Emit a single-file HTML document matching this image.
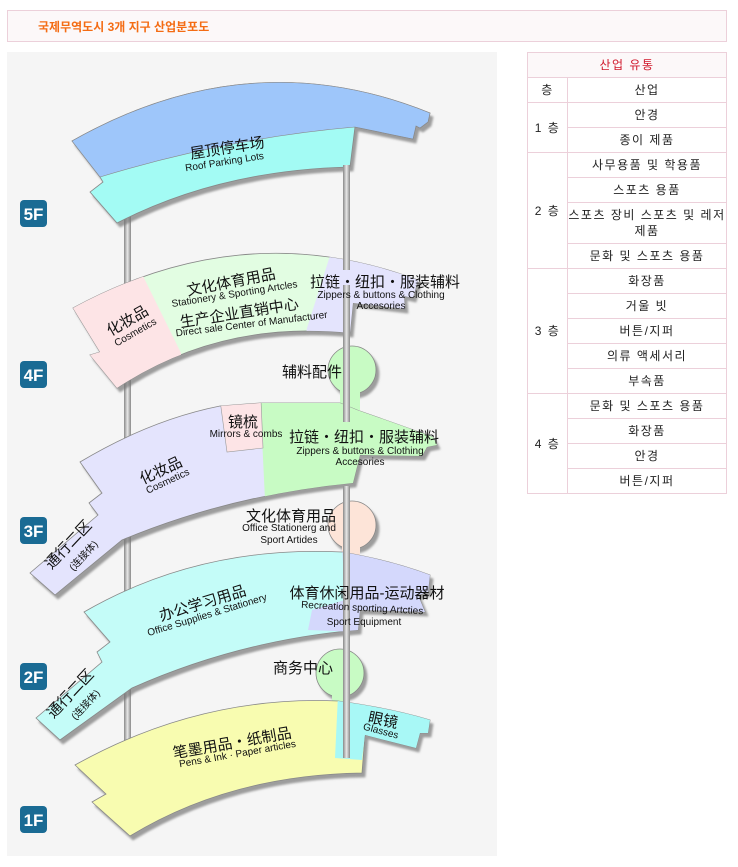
<!DOCTYPE html>
<html><head><meta charset="utf-8"><style>
body{margin:0;width:738px;height:867px;background:#fff;font-family:"Liberation Sans","Noto Sans CJK KR",sans-serif;position:relative;overflow:hidden}
.hd{position:absolute;left:7px;top:10px;width:718px;height:30px;border:1px solid #ecd0da;background:#fcf8f9}
.hd span{position:absolute;left:30px;top:7px;font-size:12px;font-weight:bold;color:#f46c14}
table{position:absolute;left:527px;top:52px;width:200px;border-collapse:collapse;font-size:12px;color:#222;font-family:"Liberation Sans","Noto Sans CJK KR",sans-serif;letter-spacing:1.5px}
td{border:1px solid #ecd0da;text-align:center;height:24px;padding:0;line-height:16px}
td.c1{width:39px}
.t{fill:#111;font-family:"Liberation Sans","Noto Sans CJK SC",sans-serif;text-anchor:middle}
.cn{font-size:15px}
.en{font-size:10px}
</style></head><body>
<div class="hd"><span>국제무역도시 3개 지구 산업분포도</span></div>
<table>
<tr><td colspan="2" style="background:#fcf8f9;color:#d0182b">산업 유통</td></tr>
<tr><td class="c1">층</td><td>산업</td></tr>
<tr><td rowspan="2">1 층</td><td>안경</td></tr><tr><td>종이 제품</td></tr>
<tr><td rowspan="4">2 층</td><td>사무용품 및 학용품</td></tr><tr><td>스포츠 용품</td></tr><tr><td style="height:40px">스포츠 장비 스포츠 및 레저 제품</td></tr><tr><td>문화 및 스포츠 용품</td></tr>
<tr><td rowspan="5">3 층</td><td>화장품</td></tr><tr><td>거울 빗</td></tr><tr><td>버튼/지퍼</td></tr><tr><td>의류 액세서리</td></tr><tr><td>부속품</td></tr>
<tr><td rowspan="4">4 층</td><td>문화 및 스포츠 용품</td></tr><tr><td>화장품</td></tr><tr><td>안경</td></tr><tr><td>버튼/지퍼</td></tr>
</table>
<svg style="position:absolute;left:0;top:0" width="738" height="867">
<defs>
<filter id="sh" x="-10%" y="-10%" width="130%" height="130%"><feDropShadow dx="3" dy="4" stdDeviation="1" flood-color="#777" flood-opacity="0.7"/></filter>
<linearGradient id="pole" x1="0" x2="1"><stop offset="0" stop-color="#888"/><stop offset="0.5" stop-color="#e8e8e8"/><stop offset="1" stop-color="#888"/></linearGradient>
<clipPath id="c4"><path d="M73,308 Q245,215 418,280 L413,298 L404,296 L405,309 L353,303 L350,333 Q220,320 117,388 L90,355 L100,352 Z"/></clipPath>
<clipPath id="c3"><path d="M80,462 Q150,420 220,406 L260,403 L340,403 L357,410 Q400,425 433,437 L437,445 L427,447 L422,456 L360,455 L353,483 Q230,495 122,540 L55,595 L30,573 L98,515 L89,503 L102,493 Z"/></clipPath>
<clipPath id="c2"><path d="M84,612 Q200,545 342,552 Q390,560 430,575 L428,592 L418,595 L425,612 L360,610 L358,630 Q240,640 132,688 L60,740 L36,718 L102,662 L97,652 L110,642 Z"/></clipPath>
<clipPath id="c1"><path d="M75,765 Q200,695 338,701 Q390,708 430,720 L428,733 L420,733 L416,748 L365,735 L362,773 Q230,775 130,836 L92,802 L106,794 Z"/></clipPath>
</defs>
<rect x="7" y="52" width="490" height="804" fill="#f5f5f5"/>
<rect x="124" y="215" width="7" height="600" fill="url(#pole)"/>
<g filter="url(#sh)">
<path d="M72,141 Q250,40 430,113 L428,122 L420,128 L416,126 L413,139 L355,127 L350,167 Q220,170 117,223 L90,192 L103,182 L100,177 Z" fill="#a3fbf4" stroke="#888" stroke-width="0.8"/>
</g>
<path d="M72,141 Q250,40 430,113 L428,122 L420,128 L416,126 L413,139 L355,127 Q228,138 100,177 Z" fill="#9ec6fa" stroke="#888" stroke-width="0.6"/>
<g filter="url(#sh)">
<circle cx="352" cy="370" r="24" fill="#c8fbc4" stroke="#888" stroke-width="0.8"/>
<circle cx="352" cy="525" r="24" fill="#fde4d8" stroke="#888" stroke-width="0.8"/>
<circle cx="340" cy="673" r="24" fill="#c8fbc4" stroke="#888" stroke-width="0.8"/>
</g>
<rect x="340" y="385" width="20" height="25" fill="#c8fbc4"/>
<rect x="342" y="540" width="18" height="20" fill="#fde4d8"/>
<rect x="332" y="688" width="16" height="18" fill="#c8fbc4"/>
<g filter="url(#sh)"><path d="M73,308 Q245,215 418,280 L413,298 L404,296 L405,309 L353,303 L350,333 Q220,320 117,388 L90,355 L100,352 Z" fill="#e2fde2" stroke="#888" stroke-width="0.8"/></g>
<g clip-path="url(#c4)">
<polygon points="60,250 142,274 181,353 181,400 60,400" fill="#fde4e6"/>
<polygon points="335,240 440,240 440,340 305,340 307,328" fill="#e4e4fd"/>
</g>
<g filter="url(#sh)"><path d="M80,462 Q150,420 220,406 L260,403 L340,403 L357,410 Q400,425 433,437 L437,445 L427,447 L422,456 L360,455 L353,483 Q230,495 122,540 L55,595 L30,573 L98,515 L89,503 L102,493 Z" fill="#e4e4fd" stroke="#888" stroke-width="0.8"/></g>
<g clip-path="url(#c3)">
<polygon points="260,395 450,395 450,500 265,500" fill="#c8fbc4"/>
<polygon points="220,400 261,400 263,448 227,452" fill="#fde4e6" stroke="#999" stroke-width="0.6"/>
</g>
<g filter="url(#sh)"><path d="M84,612 Q200,545 342,552 Q390,560 430,575 L428,592 L418,595 L425,612 L360,610 L358,630 Q240,640 132,688 L60,740 L36,718 L102,662 L97,652 L110,642 Z" fill="#c4fcf8" stroke="#888" stroke-width="0.8"/></g>
<g clip-path="url(#c2)">
<polygon points="342,545 445,560 445,640 358,640 358,632 308,630 312,610 345,600" fill="#d4d8fc"/>
</g>
<g filter="url(#sh)"><path d="M75,765 Q200,695 338,701 Q390,708 430,720 L428,733 L420,733 L416,748 L365,735 L362,773 Q230,775 130,836 L92,802 L106,794 Z" fill="#f8fcb0" stroke="#888" stroke-width="0.8"/></g>
<g clip-path="url(#c1)">
<polygon points="338,695 445,705 445,760 365,735 362,760 335,758" fill="#a8f8f6"/>
</g>
<rect x="343" y="165" width="7" height="105" fill="url(#pole)"/>
<rect x="343" y="285" width="7" height="137" fill="url(#pole)"/>
<rect x="343" y="486" width="7" height="272" fill="url(#pole)"/>
<g font-family="Liberation Sans,sans-serif" font-weight="bold" font-size="17" fill="#fff" text-anchor="middle">
<rect x="20" y="200" width="27" height="27" rx="4" fill="#1a6b94"/><text x="33.5" y="220">5F</text>
<rect x="20" y="361" width="27" height="27" rx="4" fill="#1a6b94"/><text x="33.5" y="381">4F</text>
<rect x="20" y="517" width="27" height="27" rx="4" fill="#1a6b94"/><text x="33.5" y="537">3F</text>
<rect x="20" y="663" width="27" height="27" rx="4" fill="#1a6b94"/><text x="33.5" y="683">2F</text>
<rect x="20" y="806" width="27" height="27" rx="4" fill="#1a6b94"/><text x="33.5" y="826">1F</text>
</g>
<g class="t">
<text class="cn" transform="translate(228,153) rotate(-9)">屋顶停车场</text>
<text class="en" transform="translate(225,165) rotate(-9)">Roof Parking Lots</text>
<text class="cn" transform="translate(130,325) rotate(-30)">化妆品</text>
<text class="en" transform="translate(137,335) rotate(-30)">Cosmetics</text>
<text class="cn" transform="translate(232,287) rotate(-11)">文化体育用品</text>
<text class="en" transform="translate(235,297) rotate(-9)">Stationery &amp; Sporting Artcles</text>
<text class="cn" transform="translate(240,318) rotate(-9)">生产企业直销中心</text>
<text class="en" transform="translate(252,327) rotate(-7)">Direct sale Center of Manufacturer</text>
<text class="cn" x="385" y="287" font-size="14">拉链・纽扣・服装辅料</text>
<text class="en" x="381" y="298">Zippers &amp; buttons &amp; Clothing</text>
<text class="en" x="381" y="309">Accesories</text>
<text class="cn" x="312" y="377" font-size="14">辅料配件</text>
<text class="cn" x="243" y="427" font-size="14">镜梳</text>
<text class="en" x="246" y="437">Mirrors &amp; combs</text>
<text class="cn" x="364" y="442" font-size="14">拉链・纽扣・服装辅料</text>
<text class="en" x="360" y="454">Zippers &amp; buttons &amp; Clothing</text>
<text class="en" x="360" y="465">Accesories</text>
<text class="cn" transform="translate(163,475) rotate(-25)">化妆品</text>
<text class="en" transform="translate(169,484) rotate(-25)">Cosmetics</text>
<text class="cn" transform="translate(72,548) rotate(-47)" font-size="14">通行二区</text>
<text class="en" transform="translate(86,558) rotate(-47)" font-size="12">(连接体)</text>
<text class="cn" x="291" y="521" font-size="14">文化体育用品</text>
<text class="en" x="289" y="531">Office Stationerg and</text>
<text class="en" x="289" y="543">Sport Artides</text>
<text class="cn" transform="translate(204,608) rotate(-17)">办公学习用品</text>
<text class="en" transform="translate(208,618) rotate(-17)">Office Supplies &amp; Stationery</text>
<text class="cn" x="367" y="598" font-size="14">体育休闲用品-运动器材</text>
<text class="en" transform="translate(362,611) rotate(3)">Recreation sporting Artcties</text>
<text class="en" x="364" y="625">Sport Equipment</text>
<text class="cn" transform="translate(74,697) rotate(-47)" font-size="14">通行二区</text>
<text class="en" transform="translate(88,707) rotate(-47)" font-size="12">(连接体)</text>
<text class="cn" x="303" y="673" font-size="14">商务中心</text>
<text class="cn" transform="translate(233,748) rotate(-10)">笔墨用品・纸制品</text>
<text class="en" transform="translate(238,757) rotate(-10)">Pens &amp; Ink · Paper articles</text>
<text class="cn" transform="translate(382,725) rotate(12)" font-size="14">眼镜</text>
<text class="en" transform="translate(380,734) rotate(15)">Glasses</text>
</g>
</svg>
</body></html>
